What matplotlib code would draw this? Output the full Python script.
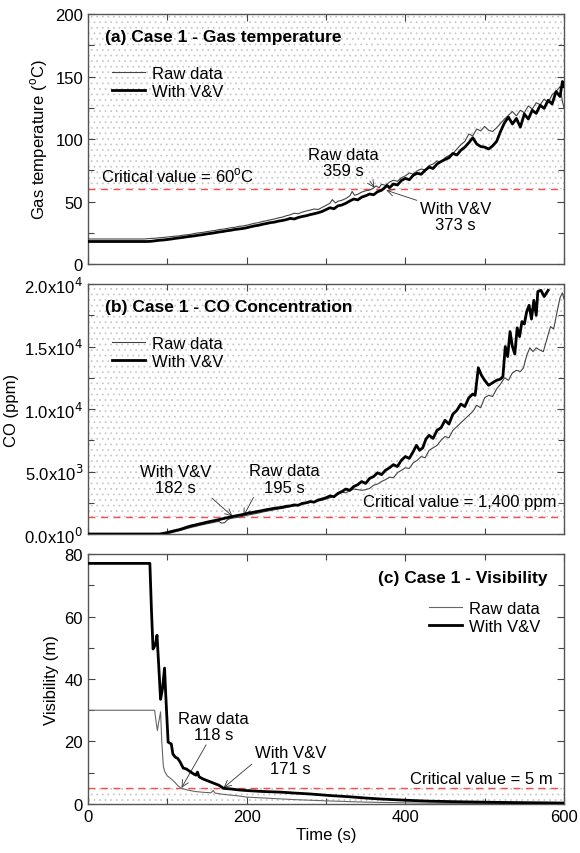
import numpy as np
import matplotlib.pyplot as plt
from matplotlib.ticker import MultipleLocator, FixedLocator, FixedFormatter

plt.rcParams['font.family'] = ['Liberation Sans', 'DejaVu Sans']
plt.rcParams['hatch.linewidth'] = 0.5

# (a) gas temperature, (t [s], T [C])
temp_raw = [(0, 20), (70, 20), (75, 20.2), (80, 20.5), (85, 20.6), (90, 21.0), (95, 21.2), (100, 21.6),
            (105, 21.9), (110, 22.3), (115, 22.5), (120, 23.1), (125, 23.4), (130, 23.8), (135, 24.5),
            (140, 25.0), (145, 25.3), (150, 25.9), (155, 26.4), (160, 26.8), (165, 27.5), (170, 27.9),
            (175, 28.4), (180, 29.0), (185, 29.3), (190, 30.1), (195, 30.4), (200, 31.0), (205, 31.8),
            (210, 32.6), (215, 33.1), (220, 34.0), (225, 34.6), (230, 35.4), (235, 36.0), (240, 36.9),
            (245, 37.5), (250, 38.6), (255, 39.4), (260, 40.6), (265, 40.2), (270, 41.5), (275, 42.4),
            (280, 43.1), (285, 44.0), (290, 43.6), (295, 45.2), (300, 46.9), (305, 48.6), (308, 51.5),
            (312, 48.8), (315, 50.2), (320, 51.0), (325, 52.4), (330, 54.5), (333, 58.0), (336, 55.0),
            (340, 55.8), (345, 57.5), (350, 58.6), (355, 59.2), (359, 60.3), (363, 62.5), (367, 61.0),
            (370, 63.8), (375, 62.9), (380, 65.5), (385, 67.0), (390, 66.2), (395, 69.0), (400, 70.5),
            (405, 72.8), (410, 71.9), (415, 74.6), (420, 76.0), (425, 75.2), (430, 78.8), (435, 80.0),
            (440, 82.5), (445, 81.4), (450, 85.0), (455, 86.8), (460, 88.3), (465, 92.0), (470, 95.5),
            (475, 98.0), (480, 104.0), (485, 102.5), (490, 108.0), (495, 106.5), (500, 110.0), (505, 107.0),
            (510, 106.0), (515, 109.0), (520, 112.5), (525, 116.0), (530, 119.0), (535, 122.0), (540, 118.5),
            (545, 123.0), (550, 121.0), (555, 126.5), (560, 124.0), (565, 129.0), (570, 127.5), (575, 132.0),
            (580, 129.0), (585, 135.5), (590, 138.0), (595, 142.0), (598, 130.0), (600, 125.0)]
temp_vv = [(0, 18), (75, 18), (80, 18.2), (85, 18.6), (90, 19.0), (95, 19.2), (100, 19.6), (105, 20.0),
           (110, 20.5), (115, 20.9), (120, 21.3), (125, 21.8), (130, 22.2), (135, 22.6), (140, 23.1),
           (145, 23.5), (150, 24.1), (155, 24.5), (160, 25.0), (165, 25.6), (170, 26.0), (175, 26.6),
           (180, 27.0), (185, 27.6), (190, 28.0), (195, 28.4), (200, 29.0), (205, 29.8), (210, 30.5),
           (215, 31.0), (220, 31.8), (225, 32.4), (230, 33.1), (235, 33.5), (240, 34.3), (245, 34.8),
           (250, 35.5), (255, 36.5), (260, 36.0), (265, 37.2), (270, 38.0), (275, 38.6), (280, 39.5),
           (285, 40.2), (290, 41.0), (295, 42.0), (300, 43.5), (305, 45.0), (310, 44.2), (315, 46.5),
           (320, 47.2), (325, 48.6), (330, 50.4), (335, 52.0), (340, 51.3), (345, 53.5), (350, 54.6),
           (355, 56.0), (360, 55.4), (365, 57.8), (370, 59.0), (373, 60.5), (377, 62.8), (380, 61.0),
           (385, 64.0), (390, 63.2), (395, 66.8), (400, 68.5), (405, 67.4), (410, 71.0), (415, 72.6),
           (420, 71.8), (425, 75.0), (430, 77.5), (435, 76.4), (440, 80.0), (445, 82.0), (450, 83.6),
           (455, 85.0), (460, 88.5), (465, 87.2), (470, 91.0), (475, 93.5), (480, 97.0), (485, 101.0),
           (490, 96.0), (495, 94.0), (500, 93.5), (505, 92.0), (510, 94.5), (515, 98.0), (520, 106.0),
           (525, 113.0), (530, 117.5), (535, 112.0), (540, 116.5), (545, 109.5), (550, 120.0), (555, 116.0),
           (560, 123.0), (565, 120.5), (570, 127.0), (575, 124.5), (580, 131.0), (585, 128.0), (590, 138.0),
           (595, 134.0), (598, 146.0), (600, 142.0)]

# (b) CO concentration, (t [s], ppm)
co_raw = [(0, 0), (95, 0), (100, 30), (105, 100), (110, 180), (115, 260), (120, 350), (125, 440), (130, 530),
          (135, 600), (140, 680), (145, 750), (150, 820), (155, 880), (160, 950), (165, 1020), (168, 880),
          (172, 900), (176, 1150), (180, 1250), (185, 1300), (190, 1350), (195, 1420), (200, 1500), (205, 1550),
          (210, 1620), (215, 1680), (220, 1760), (225, 1820), (230, 1880), (235, 1940), (240, 2000), (245, 2050),
          (250, 2120), (255, 2200), (260, 2250), (265, 2330), (270, 2400), (275, 2450), (280, 2520), (285, 2580),
          (290, 2650), (295, 2700), (300, 2800), (305, 2900), (310, 3050), (315, 3150), (320, 3350), (325, 3300),
          (330, 3450), (335, 3600), (340, 3550), (345, 3500), (350, 3550), (355, 3650), (360, 3900), (365, 4000),
          (370, 4200), (375, 4350), (380, 4550), (385, 4500), (390, 4900), (395, 5100), (400, 5300), (405, 5250),
          (410, 5700), (415, 5900), (420, 6200), (425, 6100), (430, 6700), (435, 6900), (440, 7100), (445, 7500),
          (450, 7800), (455, 7700), (460, 8300), (465, 8600), (470, 8900), (475, 9200), (480, 9500), (485, 9800),
          (490, 10300), (495, 10100), (500, 10900), (505, 11100), (510, 11000), (515, 11600), (520, 12000),
          (525, 12500), (530, 12300), (535, 12900), (540, 13100), (545, 13000), (549, 13300), (553, 14300),
          (557, 14900), (561, 14600), (565, 14900), (570, 14700), (574, 14600), (578, 15500), (583, 16600),
          (587, 16400), (591, 17700), (595, 18900), (598, 19300), (600, 18800)]
co_vv = [(0, 0), (90, 0), (95, 50), (100, 120), (105, 200), (110, 280), (115, 350), (120, 450), (125, 560),
         (130, 650), (135, 720), (140, 800), (145, 870), (150, 950), (155, 1020), (160, 1080), (165, 1150),
         (170, 1230), (175, 1300), (182, 1400), (190, 1500), (195, 1560), (200, 1640), (205, 1700), (210, 1760),
         (215, 1820), (220, 1880), (225, 1950), (230, 2000), (235, 2060), (240, 2100), (245, 2150), (250, 2220),
         (255, 2250), (260, 2330), (265, 2300), (270, 2450), (275, 2500), (280, 2600), (285, 2550), (290, 2720),
         (295, 2800), (300, 2900), (305, 3050), (310, 2980), (315, 3250), (320, 3400), (325, 3600), (330, 3500),
         (335, 3800), (340, 3950), (345, 4200), (350, 4050), (355, 4450), (360, 4600), (365, 4900), (370, 4750),
         (375, 5100), (380, 5300), (385, 5550), (390, 5400), (395, 5900), (400, 6200), (405, 6050), (410, 6600),
         (414, 7100), (418, 6700), (422, 6900), (426, 7600), (430, 7900), (435, 7650), (440, 8300), (445, 8500),
         (450, 9100), (455, 8800), (460, 9600), (465, 9900), (470, 10400), (475, 10200), (480, 10900),
         (485, 11200), (488, 11100), (492, 13300), (496, 12700), (500, 12300), (505, 11900), (510, 12100),
         (515, 12300), (520, 12400), (523, 12600), (526, 15000), (529, 14200), (532, 16200), (535, 15000),
         (538, 14400), (541, 16500), (544, 15800), (547, 17000), (550, 16800), (553, 17800), (556, 18300),
         (559, 17200), (562, 18700), (565, 17500), (567, 19400), (571, 19500), (575, 19000), (580, 19500)]

# (c) visibility, (t [s], m)
vis_raw = [(0, 30), (84, 30), (86, 26), (87.5, 23.5), (89, 26), (91.5, 29.5), (93, 20), (95, 12), (97, 10.2),
           (100, 9.0), (105, 8.0), (110, 6.8), (113, 5.9), (118, 5.0), (125, 4.5), (135, 4.0), (147, 3.7),
           (155, 3.6), (158, 4.3), (160, 3.5), (170, 3.1), (189, 2.6), (200, 2.2), (230, 1.8), (260, 1.4),
           (300, 1.0), (350, 0.6), (400, 0.35), (450, 0.2), (500, 0.15), (600, 0.1)]
vis_vv = [(0, 77), (78, 77), (80, 62), (82, 49.6), (85, 51), (87, 54), (89, 45), (91.5, 33.5), (94, 37),
          (96.5, 43.5), (98, 35), (101, 19.8), (103, 19.5), (105, 19.2), (107, 16), (110, 15), (113, 14.6),
          (116, 13.5), (120, 11.5), (124, 11.2), (128, 10.5), (132, 9.8), (136, 9.2), (138, 10.2), (140, 8.7),
          (145, 8.0), (150, 7.5), (155, 7.0), (160, 6.5), (165, 6.0), (171, 5.0), (180, 4.8), (190, 4.5),
          (200, 4.3), (220, 4.0), (242, 3.8), (260, 3.5), (280, 3.2), (305, 2.7), (330, 2.3), (350, 1.9),
          (368, 1.6), (400, 1.2), (430, 0.9), (470, 0.7), (520, 0.5), (560, 0.4), (600, 0.3)]

co_ticks = [0, 5000, 10000, 15000, 20000]
co_labels = [r'0.0x10$^{0}$', r'5.0x10$^{3}$', r'1.0x10$^{4}$', r'1.5x10$^{4}$', r'2.0x10$^{4}$']

fig = plt.figure(figsize=(5.8, 8.54), dpi=100)
L, W, H = 0.1517, 0.8207, 0.2927
axes = [fig.add_axes([L, b, W, H]) for b in (0.6897, 0.3735, 0.0574)]

RED = '#ff4a4a'
THIN = '#444444'
FS = 12


def style(ax, ymax, ymaj, ymin):
    ax.set_xlim(0, 600)
    ax.set_ylim(0, ymax)
    ax.xaxis.set_major_locator(MultipleLocator(200))
    ax.xaxis.set_minor_locator(MultipleLocator(100))
    ax.yaxis.set_major_locator(MultipleLocator(ymaj))
    ax.yaxis.set_minor_locator(MultipleLocator(ymin))
    ax.tick_params(which='both', direction='in', top=True, right=True, labelsize=FS, color='#444444')
    ax.tick_params(which='major', length=5, width=0.8)
    ax.tick_params(which='minor', length=4, width=0.8)
    for s in ax.spines.values():
        s.set_color('#555555')
        s.set_linewidth(1.0)


def dots(ax, y1, y2):
    ax.fill_between([0, 600], y1, y2, facecolor='none', edgecolor='#c4c4c4', linewidth=0,
                    hatch='...', zorder=0)


def curves(ax, raw, vv, raw_color=THIN):
    t, v = zip(*raw)
    ax.plot(t, v, color=raw_color, lw=0.8, label='Raw data', zorder=3)
    t, v = zip(*vv)
    ax.plot(t, v, color='black', lw=2.0, label='With V&V', zorder=4)


def legend(ax, **kw):
    ax.legend(frameon=False, fontsize=FS, handlelength=2.0, handletextpad=0.4, borderpad=0.2,
              labelspacing=0.2, **kw)


arrow = dict(arrowstyle='->', color='#333333', lw=0.6, shrinkA=0, shrinkB=0, mutation_scale=12)
note = dict(ha='center', va='center', fontsize=FS, linespacing=1.1)

# (a)
ax = axes[0]
style(ax, 200, 50, 25)
dots(ax, 60, 200)
curves(ax, temp_raw, temp_vv)
ax.axhline(60, color=RED, ls=(0, (5, 4)), lw=1.0, zorder=2)
ax.text(0.035, 0.91, '(a) Case 1 - Gas temperature', transform=ax.transAxes, fontsize=12.5,
        fontweight='bold', va='center')
legend(ax, loc='upper left', bbox_to_anchor=(0.025, 0.84))
ax.text(16, 71, r'Critical value = 60$^{\mathregular{o}}$C', fontsize=FS, va='center')
ax.set_ylabel(r'Gas temperature ($^{\mathregular{o}}$C)', fontsize=FS)
ax.tick_params(labelbottom=False)
ax.annotate('Raw data\n359 s', xy=(361, 61), xytext=(322, 81), **note,
            arrowprops=dict(arrow, relpos=(0.85, 0)))
ax.annotate('With V&V\n373 s', xy=(376, 59), xytext=(463, 38), **note,
            arrowprops=dict(arrow, relpos=(0.05, 0.95)))

# (b)
ax = axes[1]
style(ax, 20000, 5000, 2500)
dots(ax, 1400, 20000)
curves(ax, co_raw, co_vv)
ax.axhline(1400, color=RED, ls=(0, (5, 4)), lw=1.0, zorder=2)
ax.yaxis.set_major_locator(FixedLocator(co_ticks))
ax.yaxis.set_major_formatter(FixedFormatter(co_labels))
ax.text(0.035, 0.91, '(b) Case 1 - CO Concentration', transform=ax.transAxes, fontsize=12.5,
        fontweight='bold', va='center')
legend(ax, loc='upper left', bbox_to_anchor=(0.025, 0.84))
ax.text(590, 2600, 'Critical value = 1,400 ppm', fontsize=FS, va='center', ha='right')
ax.set_ylabel('CO (ppm)', fontsize=FS)
ax.tick_params(labelbottom=False)
ax.annotate('With V&V\n182 s', xy=(182, 1420), xytext=(110, 4350), **note,
            arrowprops=dict(arrow, relpos=(0.97, 0.0)))
ax.annotate('Raw data\n195 s', xy=(196, 1440), xytext=(248, 4400), **note,
            arrowprops=dict(arrow, relpos=(0.08, 0.0)))

# (c)
ax = axes[2]
style(ax, 80, 20, 10)
dots(ax, 0, 5)
curves(ax, vis_raw, vis_vv, raw_color='#666666')
ax.axhline(5, color=RED, ls=(0, (5, 4)), lw=1.0, zorder=2)
ax.text(0.965, 0.908, '(c) Case 1 - Visibility', transform=ax.transAxes, fontsize=12.5,
        fontweight='bold', va='center', ha='right')
legend(ax, loc='upper right', bbox_to_anchor=(0.975, 0.86))
ax.text(586, 8, 'Critical value = 5 m', fontsize=FS, va='center', ha='right')
ax.set_ylabel('Visibility (m)', fontsize=FS)
ax.set_xlabel('Time (s)', fontsize=FS, labelpad=2)
ax.annotate('Raw data\n118 s', xy=(118, 5.2), xytext=(158, 24.8), **note,
            arrowprops=dict(arrow, relpos=(0.42, 0.0)))
ax.annotate('With V&V\n171 s', xy=(171, 5.2), xytext=(255, 14), **note,
            arrowprops=dict(arrow, relpos=(0.0, 0.45)))

fig.savefig('out.png', dpi=100)
